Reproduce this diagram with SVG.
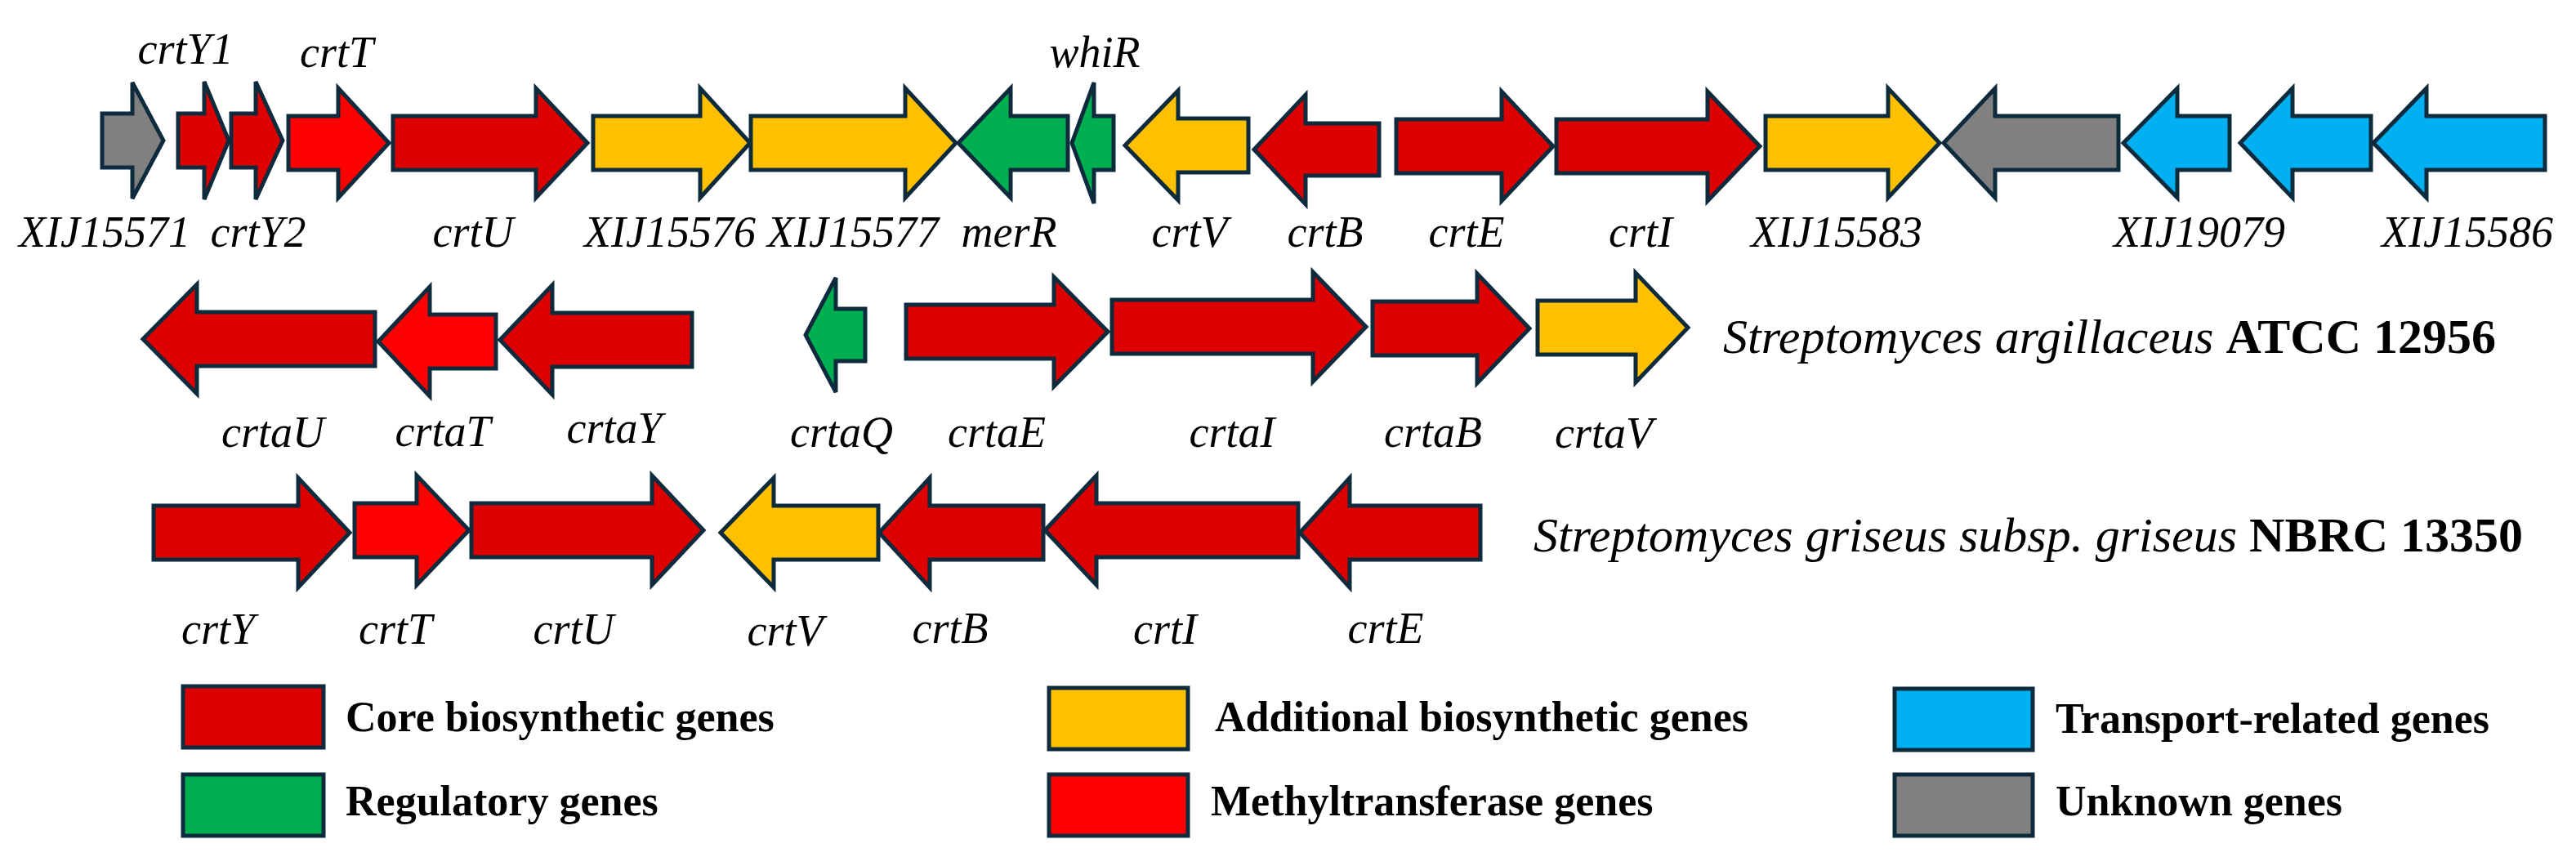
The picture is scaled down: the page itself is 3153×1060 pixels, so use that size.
<svg xmlns="http://www.w3.org/2000/svg" width="3153" height="1060" viewBox="0 0 3153 1060">
<style>
.g{stroke:#0E2A3D;stroke-width:5;stroke-linejoin:miter}
.core{fill:#DD0000}.met{fill:#FF0000}.add{fill:#FFC000}.reg{fill:#00B050}.tra{fill:#00B0F0}.unk{fill:#808080}
.gl{font-family:"Liberation Serif",serif;font-style:italic;font-size:54px;text-anchor:middle;fill:#000}
.sp{font-family:"Liberation Serif",serif;font-size:60px;fill:#000}
.it{font-style:italic}.bd{font-weight:bold}
.lg{font-family:"Liberation Serif",serif;font-weight:bold;font-size:52px;fill:#000}
</style>
<rect width="3153" height="1060" fill="#fff"/>
<g id="row1">
<g id="XIJ15571"><polygon class="g unk" points="125,139 162,139 162,101 200,172 162,243 162,205 125,205"/><text class="gl" x="128" y="302">XIJ15571</text></g>
<g id="crtY1"><polygon class="g core" points="218,139 250,139 250,100 280,172 250,244 250,205 218,205"/><text class="gl" x="227" y="78">crtY1</text></g>
<g id="crtY2"><polygon class="g core" points="283,139 313,139 313,100 346,172 313,244 313,205 283,205"/><text class="gl" x="316" y="302">crtY2</text></g>
<g id="crtT"><polygon class="g met" points="353,142 414,142 414,108 476,175 414,242 414,208 353,208"/><text class="gl" x="412" y="82">crtT</text></g>
<g id="crtU"><polygon class="g core" points="481,142 656,142 656,108 719,175 656,242 656,208 481,208"/><text class="gl" x="579" y="302">crtU</text></g>
<g id="XIJ15576"><polygon class="g add" points="726,142 857,142 857,108 918,175 857,242 857,208 726,208"/><text class="gl" x="820" y="302">XIJ15576</text></g>
<g id="XIJ15577"><polygon class="g add" points="919,142 1108,142 1108,108 1170,175 1108,242 1108,208 919,208"/><text class="gl" x="1044" y="302">XIJ15577</text></g>
<g id="merR"><polygon class="g reg" points="1307,142 1237,142 1237,108 1173,175 1237,242 1237,208 1307,208"/><text class="gl" x="1235" y="302">merR</text></g>
<g id="whiR"><polygon class="g reg" points="1363,142 1339,142 1339,101 1312,175 1339,249 1339,208 1363,208"/><text class="gl" x="1340" y="82">whiR</text></g>
<g id="crtV"><polygon class="g add" points="1528,145 1442,145 1442,111 1377,178 1442,245 1442,211 1528,211"/><text class="gl" x="1456" y="302">crtV</text></g>
<g id="crtB"><polygon class="g core" points="1688,151 1598,151 1598,116 1535,183 1598,250 1598,215 1688,215"/><text class="gl" x="1622" y="302">crtB</text></g>
<g id="crtE"><polygon class="g core" points="1709,146 1838,146 1838,112 1901,179 1838,246 1838,212 1709,212"/><text class="gl" x="1795" y="302">crtE</text></g>
<g id="crtI"><polygon class="g core" points="1905,146 2090,146 2090,112 2154,179 2090,246 2090,212 1905,212"/><text class="gl" x="2008" y="302">crtI</text></g>
<g id="XIJ15583"><polygon class="g add" points="2161,142 2311,142 2311,108 2374,175 2311,242 2311,208 2161,208"/><text class="gl" x="2248" y="302">XIJ15583</text></g>
<g id="unknown2"><polygon class="g unk" points="2593,142 2442,142 2442,108 2379,175 2442,242 2442,208 2593,208"/></g>
<g id="transport1"><polygon class="g tra" points="2729,142 2665,142 2665,108 2599,175 2665,242 2665,208 2729,208"/><text class="gl" x="2692" y="302">XIJ19079</text></g>
<g id="transport2"><polygon class="g tra" points="2902,142 2806,142 2806,108 2742,175 2806,242 2806,208 2902,208"/></g>
<g id="XIJ15586"><polygon class="g tra" points="3115,142 2970,142 2970,108 2905,175 2970,242 2970,208 3115,208"/><text class="gl" x="3020" y="302">XIJ15586</text></g>
</g>
<g id="row2">
<g id="crtaU"><polygon class="g core" points="459,382 241,382 241,348 175,415 241,482 241,448 459,448"/><text class="gl" x="334" y="547">crtaU</text></g>
<g id="crtaT"><polygon class="g met" points="607,385 526,385 526,351 463,418 526,485 526,451 607,451"/><text class="gl" x="542" y="546">crtaT</text></g>
<g id="crtaY"><polygon class="g core" points="847,383 676,383 676,349 612,416 676,483 676,449 847,449"/><text class="gl" x="752" y="542">crtaY</text></g>
<g id="crtaQ"><polygon class="g reg" points="1059,378 1023,378 1023,340 986,410 1023,480 1023,442 1059,442"/><text class="gl" x="1030" y="547">crtaQ</text></g>
<g id="crtaE"><polygon class="g core" points="1109,373 1290,373 1290,339 1356,406 1290,473 1290,439 1109,439"/><text class="gl" x="1220" y="547">crtaE</text></g>
<g id="crtaI"><polygon class="g core" points="1361,367 1607,367 1607,333 1672,400 1607,467 1607,433 1361,433"/><text class="gl" x="1508" y="547">crtaI</text></g>
<g id="crtaB"><polygon class="g core" points="1680,369 1808,369 1808,335 1872,402 1808,469 1808,435 1680,435"/><text class="gl" x="1754" y="547">crtaB</text></g>
<g id="crtaV"><polygon class="g add" points="1882,368 2002,368 2002,334 2066,401 2002,468 2002,434 1882,434"/><text class="gl" x="1963" y="548">crtaV</text></g>
<text id="species-argillaceus" class="sp" x="2109" y="432"><tspan class="it">Streptomyces argillaceus</tspan> <tspan class="bd">ATCC 12956</tspan></text>
</g>
<g id="row3">
<g id="g-crtY"><polygon class="g core" points="188,619 365,619 365,585 428,652 365,719 365,685 188,685"/><text class="gl" x="267" y="788">crtY</text></g>
<g id="g-crtT"><polygon class="g met" points="434,616 510,616 510,582 574,649 510,716 510,682 434,682"/><text class="gl" x="484" y="788">crtT</text></g>
<g id="g-crtU"><polygon class="g core" points="577,616 798,616 798,582 861,649 798,716 798,682 577,682"/><text class="gl" x="702" y="788">crtU</text></g>
<g id="g-crtV"><polygon class="g add" points="1075,619 947,619 947,585 882,652 947,719 947,685 1075,685"/><text class="gl" x="961" y="790">crtV</text></g>
<g id="g-crtB"><polygon class="g core" points="1277,619 1138,619 1138,585 1076,652 1138,719 1138,685 1277,685"/><text class="gl" x="1163" y="787">crtB</text></g>
<g id="g-crtI"><polygon class="g core" points="1589,616 1342,616 1342,582 1279,649 1342,716 1342,682 1589,682"/><text class="gl" x="1426" y="788">crtI</text></g>
<g id="g-crtE"><polygon class="g core" points="1812,619 1652,619 1652,585 1591,652 1652,719 1652,685 1812,685"/><text class="gl" x="1696" y="787">crtE</text></g>
<text id="species-griseus" class="sp" x="1877" y="675"><tspan class="it">Streptomyces griseus subsp. griseus</tspan> <tspan class="bd">NBRC 13350</tspan></text>
</g>
<g id="legend">
<g id="lg-core"><rect class="g core" x="224" y="840" width="172" height="75"/><text class="lg" x="423" y="895">Core biosynthetic genes</text></g>
<g id="lg-reg"><rect class="g reg" x="224" y="948" width="172" height="75"/><text class="lg" x="423" y="998">Regulatory genes</text></g>
<g id="lg-add"><rect class="g add" x="1284" y="842" width="170" height="75"/><text class="lg" x="1487" y="895">Additional biosynthetic genes</text></g>
<g id="lg-met"><rect class="g met" x="1284" y="948" width="170" height="75"/><text class="lg" x="1482" y="998">Methyltransferase genes</text></g>
<g id="lg-tra"><rect class="g tra" x="2319" y="843" width="169" height="75"/><text class="lg" x="2516" y="897">Transport-related genes</text></g>
<g id="lg-unk"><rect class="g unk" x="2319" y="948" width="169" height="75"/><text class="lg" x="2516" y="998">Unknown genes</text></g>
</g>
<g id="connectors"/>
</svg>
